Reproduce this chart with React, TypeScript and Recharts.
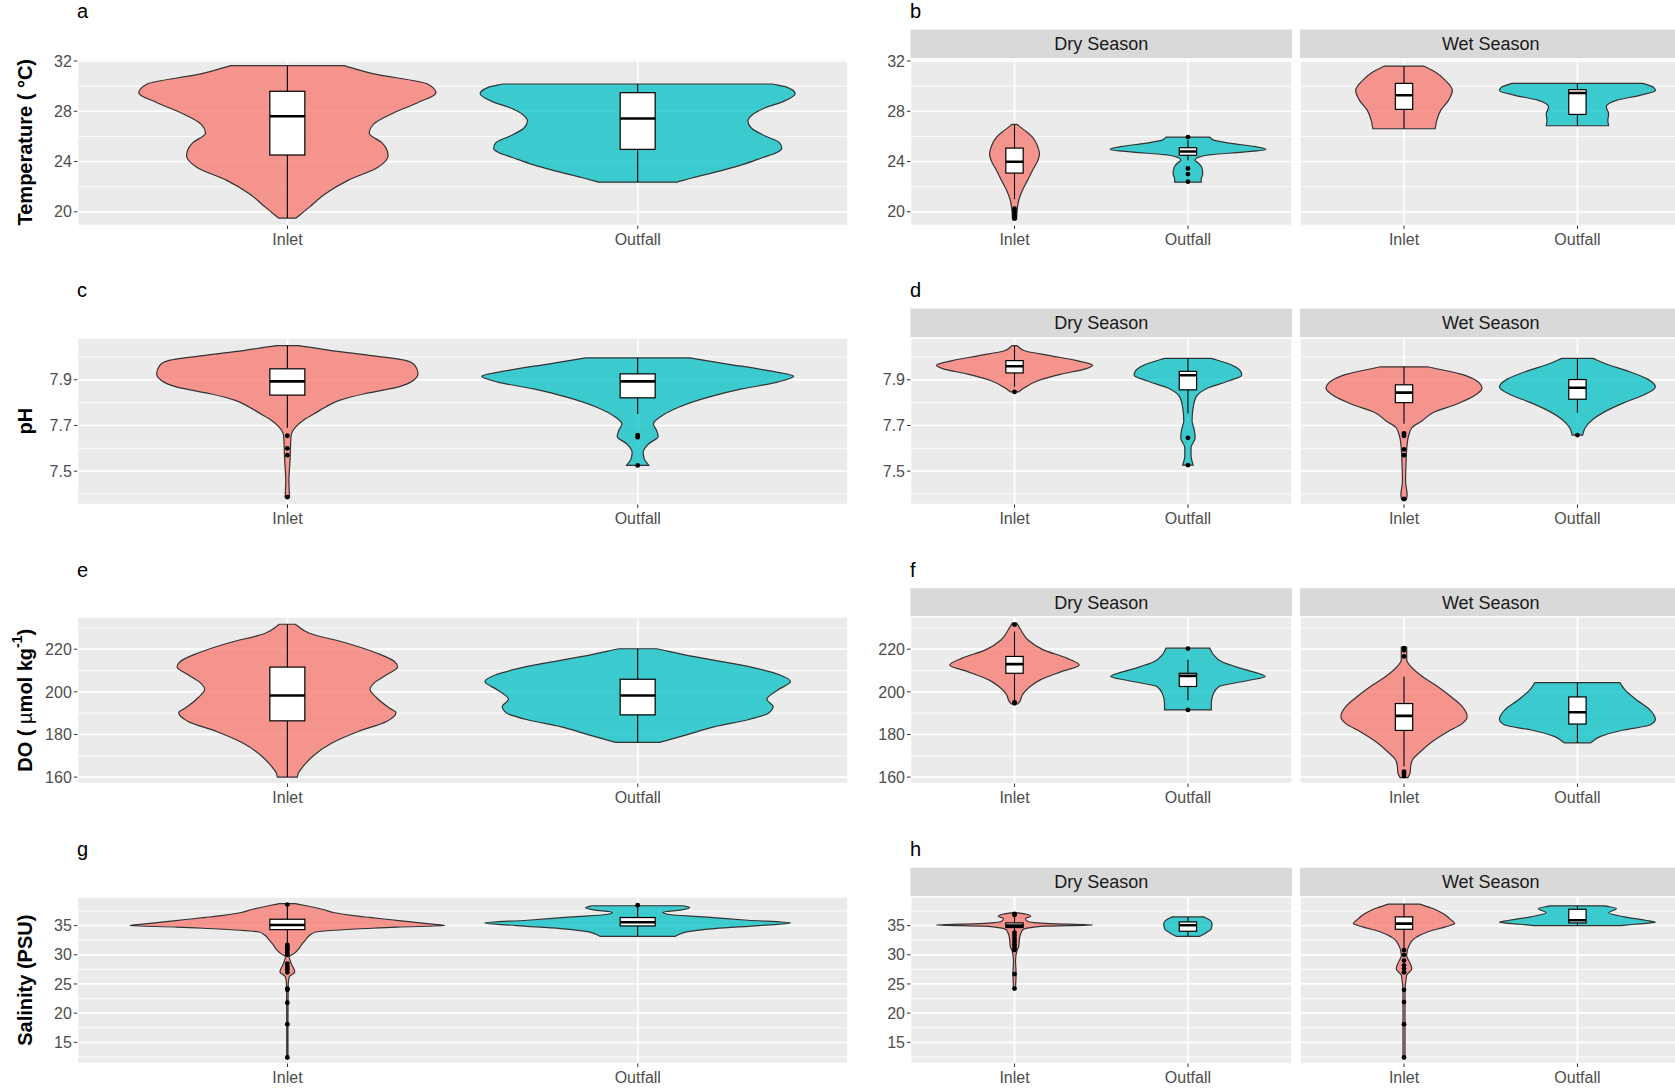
import React from "react";
import { ComposedChart, Bar, XAxis, YAxis, CartesianGrid } from "recharts";

const FONT = '"Liberation Sans", Arial, Helvetica, sans-serif';
const SITE_FILL: Record<string, string> = { Inlet: "#F8766D", Outfall: "#00BFC4" };
const SEASONS = ["Dry Season", "Wet Season"];
const LETTERS = [["a", "b"], ["c", "d"], ["e", "f"], ["g", "h"]];

// axis ticks (major / minor gridlines) and limits
const TEMP_TICKS = [20, 24, 28, 32];
const TEMP_MINOR = [22, 26, 30];
const TEMP_DOMAIN = [18.91, 32.16];
const PH_TICKS = [7.5, 7.7, 7.9];
const PH_MINOR = [7.4, 7.6, 7.8, 8.0];
const PH_DOMAIN = [7.354, 8.083];
const DO_TICKS = [160, 180, 200, 220];
const DO_MINOR = [170, 190, 210, 230];
const DO_DOMAIN = [157.0, 235.1];
const SAL_TICKS = [15, 20, 25, 30, 35];
const SAL_MINOR = [12.5, 17.5, 22.5, 27.5, 32.5, 37.5];
const SAL_DOMAIN = [11.37, 39.9];

// violin profiles: [value, relative half width], top to bottom
// box stats: [lower whisker, q1, median, q3, upper whisker]
// ---- temperature, all data
const tempInlet = [[31.63, 0.36], [30.97, 0.55], [30.17, 0.89], [29.46, 0.943], [28.7, 0.83], [27.9, 0.68], [27.0, 0.55], [26.25, 0.52], [25.5, 0.6], [24.47, 0.64], [23.55, 0.575], [22.5, 0.385], [21.4, 0.237], [20.37, 0.14], [19.5, 0.055]];
const tempInletBox = [19.5, 24.52, 27.6, 29.59, 31.63];
const tempOutfall = [[30.17, 0.856], [29.9, 0.95], [29.4, 1.0], [28.81, 0.93], [28.28, 0.81], [27.75, 0.73], [27.22, 0.7], [26.69, 0.72], [26.03, 0.81], [25.5, 0.9], [25.04, 0.915], [24.7, 0.88], [24.3, 0.79], [23.77, 0.67], [23.24, 0.52], [22.71, 0.35], [22.36, 0.25]];
const tempOutfallBox = [22.36, 24.97, 27.43, 29.48, 30.17];
// ---- temperature, by season
const tempDryInlet = [[26.96, 0.03], [26.48, 0.13], [25.95, 0.23], [25.15, 0.3], [24.6, 0.32], [24.09, 0.3], [23.29, 0.23], [22.5, 0.167], [21.7, 0.1], [20.9, 0.053], [20.1, 0.033], [19.44, 0.027]];
const tempDryInletBox = [21.0, 23.08, 23.98, 25.07, 26.9];
const tempDryInletOut = [20.25, 20.05, 19.85, 19.65, 19.45];
const tempDryOutfall = [[25.95, 0.28], [25.7, 0.33], [25.45, 0.55], [25.2, 0.85], [24.96, 1.0], [24.75, 0.7], [24.55, 0.3], [24.3, 0.12], [24.1, 0.09], [23.9, 0.13], [23.5, 0.18], [23.0, 0.19], [22.6, 0.17], [22.36, 0.17]];
const tempDryOutfallBox = [24.1, 24.5, 24.8, 25.1, 25.7];
const tempDryOutfallOut = [25.95, 23.45, 23.0, 22.4];
const tempWetInlet = [[31.6, 0.25], [31.12, 0.4], [30.46, 0.53], [29.66, 0.62], [28.87, 0.57], [28.07, 0.47], [27.27, 0.42], [26.61, 0.4]];
const tempWetInletBox = [26.61, 28.15, 29.27, 30.22, 31.6];
const tempWetOutfall = [[30.22, 0.84], [29.93, 0.97], [29.66, 1.0], [29.27, 0.8], [28.87, 0.5], [28.34, 0.37], [27.8, 0.4], [27.27, 0.39], [26.85, 0.4]];
const tempWetOutfallBox = [26.85, 27.75, 29.45, 29.72, 30.22];
// ---- pH, all data
const phInlet = [[8.05, 0.07], [8.028, 0.28], [8.007, 0.52], [7.985, 0.75], [7.963, 0.81], [7.926, 0.83], [7.897, 0.8], [7.868, 0.7], [7.839, 0.49], [7.81, 0.33], [7.78, 0.24], [7.751, 0.17], [7.722, 0.1], [7.693, 0.052], [7.656, 0.024], [7.605, 0.02], [7.547, 0.017], [7.46, 0.01], [7.386, 0.014]];
const phInletBox = [7.69, 7.833, 7.893, 7.948, 8.05];
const phInletOut = [7.655, 7.6, 7.57, 7.386];
const phOutfall = [[7.996, 0.33], [7.97, 0.56], [7.94, 0.83], [7.915, 0.99], [7.89, 0.89], [7.86, 0.66], [7.824, 0.45], [7.78, 0.26], [7.736, 0.14], [7.707, 0.1], [7.678, 0.12], [7.652, 0.13], [7.62, 0.07], [7.583, 0.035], [7.554, 0.042], [7.525, 0.07]];
const phOutfallBox = [7.75, 7.821, 7.893, 7.926, 7.996];
const phOutfallOut = [7.658, 7.648, 7.525];
// ---- pH, by season
const phDryInlet = [[8.05, 0.03], [8.027, 0.13], [8.005, 0.47], [7.984, 0.8], [7.964, 1.0], [7.947, 0.9], [7.925, 0.6], [7.896, 0.3], [7.866, 0.13], [7.847, 0.05]];
const phDryInletBox = [7.87, 7.93, 7.959, 7.984, 8.05];
const phDryInletOut = [7.847];
const phDryOutfall = [[7.994, 0.3], [7.969, 0.53], [7.94, 0.67], [7.92, 0.69], [7.896, 0.53], [7.866, 0.27], [7.822, 0.1], [7.778, 0.067], [7.72, 0.053], [7.683, 0.08], [7.646, 0.093], [7.603, 0.04], [7.566, 0.04], [7.526, 0.067]];
const phDryOutfallBox = [7.752, 7.856, 7.92, 7.937, 7.994];
const phDryOutfallOut = [7.646, 7.526];
const phWetInlet = [[7.957, 0.3], [7.925, 0.73], [7.896, 0.93], [7.863, 1.0], [7.83, 0.9], [7.793, 0.67], [7.756, 0.37], [7.72, 0.23], [7.69, 0.1], [7.647, 0.053], [7.588, 0.033], [7.544, 0.027], [7.456, 0.02], [7.397, 0.04], [7.375, 0.03]];
const phWetInletBox = [7.708, 7.8, 7.844, 7.878, 7.957];
const phWetInletOut = [7.665, 7.655, 7.595, 7.57, 7.378];
const phWetOutfall = [[7.994, 0.2], [7.969, 0.37], [7.94, 0.63], [7.903, 0.9], [7.869, 1.0], [7.837, 0.87], [7.8, 0.6], [7.764, 0.37], [7.727, 0.2], [7.69, 0.1], [7.658, 0.067]];
const phWetOutfallBox = [7.756, 7.815, 7.865, 7.901, 7.994];
const phWetOutfallOut = [7.658];
// ---- DO, all data
const doInlet = [[231.7, 0.05], [227.5, 0.14], [222.8, 0.38], [218.1, 0.57], [214.2, 0.68], [211.6, 0.7], [208, 0.63], [204.1, 0.55], [201.2, 0.525], [197, 0.57], [192.3, 0.65], [190.3, 0.69], [186.1, 0.63], [181.4, 0.45], [175.9, 0.28], [169.7, 0.16], [165, 0.1], [161.9, 0.07], [160, 0.063]];
const doInletBox = [160, 186.4, 198.3, 211.6, 231.7];
const doOutfall = [[220.2, 0.12], [216.6, 0.35], [211.9, 0.7], [208, 0.9], [204.8, 0.97], [200.9, 0.89], [196.5, 0.82], [193.1, 0.86], [190, 0.83], [186.9, 0.7], [183.7, 0.49], [179.8, 0.31], [176.3, 0.14]];
const doOutfallBox = [176.3, 189.2, 198.3, 205.9, 220.2];
// ---- DO, by season
const doDryInlet = [[232.2, 0.03], [229.1, 0.08], [224.4, 0.17], [219.7, 0.37], [215.8, 0.67], [212.6, 0.83], [209.5, 0.6], [205.6, 0.33], [202.5, 0.2], [198.6, 0.1], [195.4, 0.067], [194.3, 0.04]];
const doDryInletBox = [196, 208.7, 213, 216.6, 228.3];
const doDryInletOut = [231.5, 195.2, 194.6];
const doDryOutfall = [[220.5, 0.28], [217.3, 0.33], [214.2, 0.43], [211.1, 0.67], [208.7, 0.9], [207.2, 0.99], [205.3, 0.77], [202.5, 0.4], [199.4, 0.33], [194.6, 0.3], [191.5, 0.3]];
const doDryOutfallBox = [196, 202.5, 207.5, 208.7, 215];
const doDryOutfallOut = [220.3, 191.5];
const doWetInlet = [[221, 0.035], [215, 0.035], [211.9, 0.085], [207.2, 0.235], [202.5, 0.43], [197.8, 0.6], [193, 0.75], [188.4, 0.81], [185.2, 0.75], [181.3, 0.56], [176.6, 0.36], [171.9, 0.21], [168, 0.107], [164.9, 0.085], [161.7, 0.077], [159.8, 0.05]];
const doWetInletBox = [165, 181.9, 188.7, 194.5, 207.2];
const doWetInletOut = [220.5, 219.5, 216.6, 162.5, 161.7, 160.5];
const doWetOutfall = [[204.3, 0.545], [200.9, 0.61], [196.2, 0.76], [191.5, 0.93], [187.1, 1.0], [184.4, 0.93], [182.1, 0.59], [179, 0.29], [176.1, 0.17]];
const doWetOutfallBox = [176.1, 184.9, 190.4, 197.6, 204.3];
// ---- salinity, all data
const salInlet = [[38.77, 0.05], [38.4, 0.12], [37.8, 0.22], [37.2, 0.3], [36.7, 0.42], [36.4, 0.52], [36.0, 0.66], [35.6, 0.8], [35.25, 0.92], [35.0, 1.0], [34.75, 0.7], [34.5, 0.5], [34.2, 0.3], [33.9, 0.18], [33.3, 0.14], [32.5, 0.115], [31.9, 0.095], [31.06, 0.074], [30.2, 0.042], [29.63, 0.012], [28.49, 0.025], [27.06, 0.047], [26.2, 0.012], [25.06, 0.006], [23.9, 0.005], [18.2, 0.004], [12.5, 0.004]];
const salInletBox = [31.8, 34.31, 35.11, 36.09, 38.7];
const salInletOut = [38.6, 31.7, 31.4, 31.1, 30.8, 30.4, 30.0, 28.5, 28.0, 27.5, 27.0, 24.2, 24.0, 21.8, 18.1, 12.4];
const salOutfall = [[38.4, 0.29], [38.1, 0.33], [37.7, 0.28], [37.3, 0.16], [36.9, 0.2], [36.49, 0.42], [35.92, 0.7], [35.46, 0.97], [35.0, 0.77], [34.48, 0.49], [33.91, 0.31], [33.17, 0.24]];
const salOutfallBox = [33.17, 34.94, 35.57, 36.38, 38.4];
const salOutfallOut = [38.5];
// ---- salinity, by season
const salDryInlet = [[37.18, 0.05], [36.95, 0.15], [36.6, 0.21], [36.2, 0.14], [35.7, 0.17], [35.35, 0.45], [35.11, 1.0], [34.9, 0.4], [34.6, 0.18], [34.2, 0.1], [33.05, 0.067], [31.33, 0.053], [30.76, 0.033], [29.04, 0.013], [26.75, 0.02], [24.17, 0.013]];
const salDryInletBox = [34.0, 34.66, 35.0, 35.46, 36.6];
const salDryInletOut = [37.0, 36.8, 33.8, 33.3, 32.8, 32.3, 31.8, 31.4, 31.0, 30.8, 26.7, 24.2];
const salDryOutfall = [[36.49, 0.2], [36.03, 0.27], [35.34, 0.31], [34.48, 0.3], [33.74, 0.23], [33.17, 0.15]];
const salDryOutfallBox = [33.17, 34.03, 35.06, 35.63, 36.49];
const salWetInlet = [[38.67, 0.2], [37.92, 0.37], [37.06, 0.5], [36.03, 0.6], [35.34, 0.65], [34.77, 0.53], [33.91, 0.3], [32.77, 0.13], [31.62, 0.067], [29.9, 0.033], [28.47, 0.08], [27.6, 0.1], [26.46, 0.033], [23.3, 0.013], [12.4, 0.013]];
const salWetInletBox = [31.0, 34.37, 35.34, 36.49, 38.67];
const salWetInletOut = [30.8, 30.0, 29.0, 28.2, 27.6, 27.0, 24.0, 21.9, 18.1, 12.4];
const salWetOutfall = [[38.38, 0.35], [37.92, 0.5], [37.18, 0.4], [36.49, 0.6], [35.92, 0.87], [35.57, 1.0], [35.23, 0.73], [35.0, 0.56]];
const salWetOutfallBox = [35.0, 35.46, 35.92, 37.8, 38.38];

type ViolinRow = { site: string; range: number[]; profile: number[][]; box: number[]; out: number[] };

function violin(site: string, profile: number[][], box: number[], out: number[] = []): ViolinRow {
  const vals = profile.map((p) => p[0]);
  return { site, range: [Math.min(...vals), Math.max(...vals)], profile, box, out };
}

// layout
const ROW_TOPS = [58.5, 337.5, 617.2, 896.7];
const PLOT_H = 166.5;
const X_H = 32;
const TOP_PAD = 12;
const STRIP_H = 29;
const LEFT = { x: 0, width: 848, yWidth: 77.3 };
const DRY = { x: 860, width: 432, yWidth: 50.5 };
const WET = { x: 1300, width: 381.5, yWidth: 0 };
const BOX_RATIO = 0.1 / 0.9;

const titleStyle = { fontSize: 20, fontWeight: 700, fill: "#000" } as const;

function YTitle(props: any) {
  const vb = props.viewBox || { x: 0, y: TOP_PAD, width: 77.3, height: PLOT_H };
  const cx = vb.x + 24.7;
  const cy = vb.y + vb.height / 2;
  return (
    <text x={cx} y={cy} transform={`rotate(-90 ${cx} ${cy})`} textAnchor="middle" dominantBaseline="central" {...titleStyle}>
      {props.children}
    </text>
  );
}

const PANELS = [
  {
    domain: TEMP_DOMAIN, ticks: TEMP_TICKS, minor: TEMP_MINOR,
    title: <YTitle>Temperature ( °C)</YTitle>,
    all: [violin("Inlet", tempInlet, tempInletBox), violin("Outfall", tempOutfall, tempOutfallBox)],
    dry: [violin("Inlet", tempDryInlet, tempDryInletBox, tempDryInletOut), violin("Outfall", tempDryOutfall, tempDryOutfallBox, tempDryOutfallOut)],
    wet: [violin("Inlet", tempWetInlet, tempWetInletBox), violin("Outfall", tempWetOutfall, tempWetOutfallBox)],
  },
  {
    domain: PH_DOMAIN, ticks: PH_TICKS, minor: PH_MINOR,
    title: <YTitle>pH</YTitle>,
    all: [violin("Inlet", phInlet, phInletBox, phInletOut), violin("Outfall", phOutfall, phOutfallBox, phOutfallOut)],
    dry: [violin("Inlet", phDryInlet, phDryInletBox, phDryInletOut), violin("Outfall", phDryOutfall, phDryOutfallBox, phDryOutfallOut)],
    wet: [violin("Inlet", phWetInlet, phWetInletBox, phWetInletOut), violin("Outfall", phWetOutfall, phWetOutfallBox, phWetOutfallOut)],
  },
  {
    domain: DO_DOMAIN, ticks: DO_TICKS, minor: DO_MINOR,
    title: (
      <YTitle>
        <tspan>DO ( </tspan>
        <tspan fontWeight={400}>µ</tspan>
        <tspan>mol kg</tspan>
        <tspan fontSize={14} dy={-8}>-1</tspan>
        <tspan dy={8}>)</tspan>
      </YTitle>
    ),
    all: [violin("Inlet", doInlet, doInletBox), violin("Outfall", doOutfall, doOutfallBox)],
    dry: [violin("Inlet", doDryInlet, doDryInletBox, doDryInletOut), violin("Outfall", doDryOutfall, doDryOutfallBox, doDryOutfallOut)],
    wet: [violin("Inlet", doWetInlet, doWetInletBox, doWetInletOut), violin("Outfall", doWetOutfall, doWetOutfallBox)],
  },
  {
    domain: SAL_DOMAIN, ticks: SAL_TICKS, minor: SAL_MINOR,
    title: <YTitle>Salinity (PSU)</YTitle>,
    all: [violin("Inlet", salInlet, salInletBox, salInletOut), violin("Outfall", salOutfall, salOutfallBox, salOutfallOut)],
    dry: [violin("Inlet", salDryInlet, salDryInletBox, salDryInletOut), violin("Outfall", salDryOutfall, salDryOutfallBox)],
    wet: [violin("Inlet", salWetInlet, salWetInletBox, salWetInletOut), violin("Outfall", salWetOutfall, salWetOutfallBox)],
  },
];

// monotone cubic outline, mirrored around cx
function violinPath(pts: { y: number; w: number }[], cx: number) {
  const n = pts.length;
  const h: number[] = [];
  const s: number[] = [];
  for (let i = 0; i < n - 1; i++) {
    h[i] = pts[i + 1].y - pts[i].y || 0.001;
    s[i] = (pts[i + 1].w - pts[i].w) / h[i];
  }
  const m: number[] = new Array(n).fill(0);
  m[0] = s[0];
  m[n - 1] = s[n - 2];
  for (let i = 1; i < n - 1; i++) {
    const s0 = s[i - 1];
    const s1 = s[i];
    if (s0 * s1 <= 0) continue;
    const p = (s0 * h[i] + s1 * h[i - 1]) / (h[i - 1] + h[i]);
    m[i] = (Math.sign(s0) + Math.sign(s1)) * Math.min(Math.abs(s0), Math.abs(s1), 0.5 * Math.abs(p));
  }
  const segs: number[][] = [];
  for (let i = 0; i < n - 1; i++) {
    segs.push([pts[i].w + (m[i] * h[i]) / 3, pts[i].y + h[i] / 3, pts[i + 1].w - (m[i + 1] * h[i]) / 3, pts[i + 1].y - h[i] / 3]);
  }
  let d = `M${cx - pts[0].w},${pts[0].y} L${cx + pts[0].w},${pts[0].y}`;
  segs.forEach((g, i) => {
    d += ` C${cx + g[0]},${g[1]} ${cx + g[2]},${g[3]} ${cx + pts[i + 1].w},${pts[i + 1].y}`;
  });
  d += ` L${cx - pts[n - 1].w},${pts[n - 1].y}`;
  for (let i = n - 2; i >= 0; i--) {
    const g = segs[i];
    d += ` C${cx - g[2]},${g[3]} ${cx - g[0]},${g[1]} ${cx - pts[i].w},${pts[i].y}`;
  }
  return d + " Z";
}

function ViolinShape(props: any) {
  const { x, y, width, height } = props;
  const row: ViolinRow = props.payload && props.payload.profile ? props.payload : props;
  if (!row || !row.profile) return null;
  const [lo, hi] = row.range;
  const top = Math.min(y, y + height);
  const bottom = Math.max(y, y + height);
  const toPx = (v: number) => bottom - ((v - lo) / (hi - lo)) * (bottom - top);
  const cx = x + width / 2;
  const half = width / 2;
  const pts = row.profile.map(([v, w]) => ({ y: toPx(v), w: w * half }));
  const [wLo, q1, med, q3, wHi] = row.box;
  const bh = half * BOX_RATIO;
  return (
    <g>
      <path d={violinPath(pts, cx)} fill={SITE_FILL[row.site]} fillOpacity={0.75} stroke="#333333" strokeWidth={1.2} />
      <line x1={cx} x2={cx} y1={toPx(wHi)} y2={toPx(q3)} stroke="#000" strokeWidth={1.1} />
      <line x1={cx} x2={cx} y1={toPx(q1)} y2={toPx(wLo)} stroke="#000" strokeWidth={1.1} />
      <rect x={cx - bh} y={toPx(q3)} width={2 * bh} height={toPx(q1) - toPx(q3)} fill="#fff" stroke="#000" strokeWidth={1.2} />
      <line x1={cx - bh} x2={cx + bh} y1={toPx(med)} y2={toPx(med)} stroke="#000" strokeWidth={2.6} />
      {row.out.map((v, i) => (
        <circle key={i} cx={cx} cy={toPx(v)} r={2.4} fill="#000" />
      ))}
    </g>
  );
}

const tickStyle = { fill: "#4D4D4D", fontSize: 16 };

function ViolinChart({ rows, panel, frame, top, showY, title }: any) {
  const plotW = frame.width - frame.yWidth;
  const pad = plotW / 22;
  return (
    <div style={{ position: "absolute", left: frame.x, top: top - TOP_PAD }}>
      <ComposedChart
        width={frame.width}
        height={PLOT_H + X_H + TOP_PAD}
        data={rows}
        margin={{ top: TOP_PAD, right: 0, bottom: 0, left: 0 }}
        barCategoryGap="5%"
      >
        <CartesianGrid fill="#EBEBEB" stroke="#FFFFFF" strokeWidth={1.7} />
        <CartesianGrid vertical={false} horizontalValues={panel.minor} stroke="#FFFFFF" strokeWidth={0.9} />
        <XAxis
          dataKey="site"
          type="category"
          padding={{ left: pad, right: pad }}
          height={X_H}
          interval={0}
          tickSize={3.5}
          tickMargin={5}
          axisLine={false}
          tickLine={{ stroke: "#333333" }}
          tick={tickStyle}
        />
        <YAxis
          type="number"
          domain={panel.domain}
          allowDataOverflow
          ticks={panel.ticks}
          interval={0}
          width={frame.yWidth}
          hide={!showY}
          tickSize={3.5}
          tickMargin={2}
          axisLine={false}
          tickLine={{ stroke: "#333333" }}
          tick={tickStyle}
          label={title}
        />
        <Bar dataKey="range" shape={(p: any) => <ViolinShape {...p} />} isAnimationActive={false} />
      </ComposedChart>
    </div>
  );
}

export default function App() {
  return (
    <div
      style={{
        position: "absolute",
        left: 0,
        top: 0,
        width: 1675,
        height: 1089,
        overflow: "hidden",
        background: "#ffffff",
        fontFamily: FONT,
      }}
    >
      <svg width={1675} height={1089} style={{ position: "absolute", left: 0, top: 0 }}>
        {ROW_TOPS.map((t, r) => (
          <g key={r}>
            <text x={77} y={t - 40.5} fontSize={20} fill="#000">{LETTERS[r][0]}</text>
            <text x={910} y={t - 40.5} fontSize={20} fill="#000">{LETTERS[r][1]}</text>
            {[DRY, WET].map((f, k) => {
              const x0 = f.x + f.yWidth;
              const w = f.width - f.yWidth;
              return (
                <g key={k}>
                  <rect x={x0} y={t - STRIP_H} width={w} height={STRIP_H} fill="#D9D9D9" />
                  <text x={x0 + w / 2} y={t - STRIP_H / 2} textAnchor="middle" dominantBaseline="central" fontSize={18} fill="#1A1A1A">
                    {SEASONS[k]}
                  </text>
                </g>
              );
            })}
          </g>
        ))}
      </svg>
      {PANELS.map((p, r) => (
        <React.Fragment key={r}>
          <ViolinChart rows={p.all} panel={p} frame={LEFT} top={ROW_TOPS[r]} showY title={p.title} />
          <ViolinChart rows={p.dry} panel={p} frame={DRY} top={ROW_TOPS[r]} showY />
          <ViolinChart rows={p.wet} panel={p} frame={WET} top={ROW_TOPS[r]} showY={false} />
        </React.Fragment>
      ))}
    </div>
  );
}
